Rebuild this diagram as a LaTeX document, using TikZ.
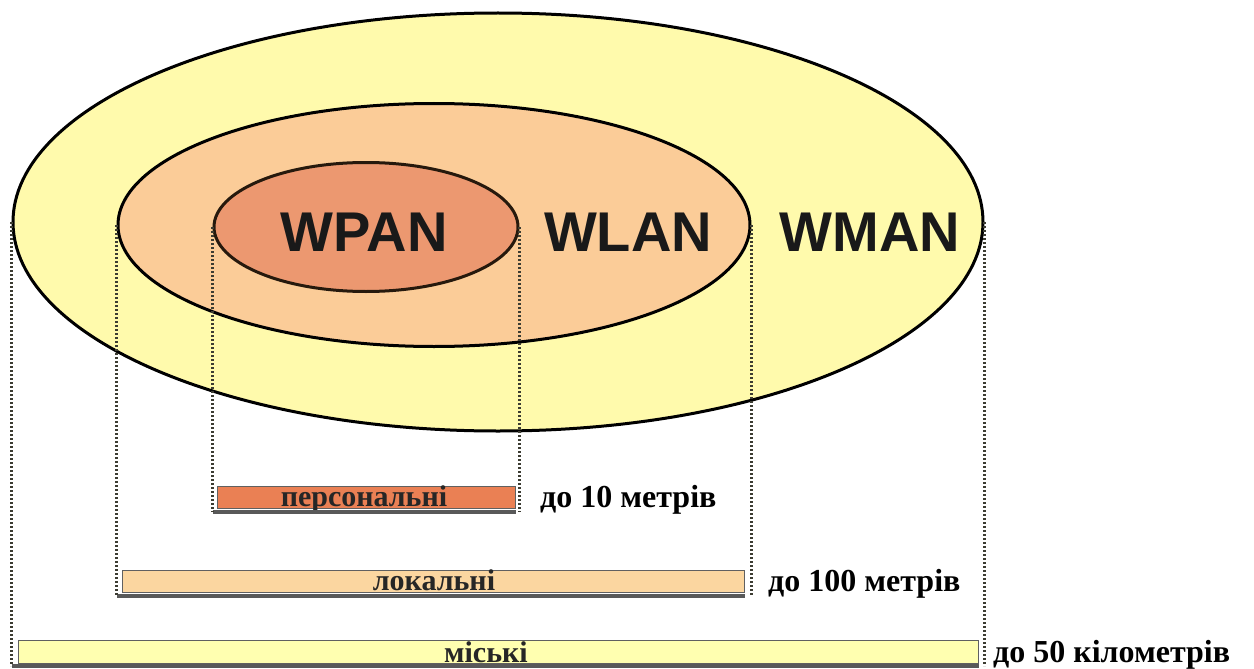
\documentclass[tikz,border=0pt]{standalone}
\usepackage{fontspec}
\setmainfont{Liberation Serif}
\newfontfamily\labfont{Liberation Sans}
\usetikzlibrary{shapes.geometric}
\definecolor{cOuter}{RGB}{255,250,172}
\definecolor{cMid}{RGB}{251,204,152}
\definecolor{cIn}{RGB}{236,152,112}
\definecolor{cBarP}{RGB}{234,128,84}
\definecolor{cBarL}{RGB}{251,214,160}
\definecolor{cBarM}{RGB}{255,255,176}
\definecolor{cDot}{RGB}{60,60,50}
\begin{document}
\begin{tikzpicture}[x=1pt,y=-1pt,
  ell/.style={ellipse, draw=black, line width=3pt, inner sep=0pt},
  netlabel/.style={font=\labfont\bfseries\fontsize{56}{56}\selectfont, text=black!90, inner sep=0pt},
  bar/.style={draw=gray!75!black, line width=1pt, inner sep=0pt},
  bartext/.style={anchor=base, inner sep=0pt, font=\bfseries\fontsize{30}{30}\selectfont, text=black!85},
  rangelabel/.style={anchor=base west, font=\bfseries\fontsize{32}{32}\selectfont, inner sep=0pt},
  dotline/.style={cDot, line width=3pt, dash pattern=on 2pt off 2pt},
  shadowline/.style={black!65, line width=4.5pt}]
\useasboundingbox (0,0) rectangle (1254,669);
\fill[white] (0,0) rectangle (1254,669);
% ellipses
\node[ell, fill=cOuter, minimum width=970, minimum height=418] (wman) at (498,222) {};
\node[ell, fill=cMid, minimum width=632, minimum height=243] (wlan) at (434,225) {};
\node[ell, fill=cIn, draw=black!80!brown, minimum width=304, minimum height=129] (wpan) at (366,227) {};
% labels
\node[netlabel] (tpan) at (364,232) {WPAN};
\node[netlabel] (tlan) at (628,232) {WLAN};
\node[netlabel] (tman) at (870,232) {WMAN};
% bars
\node[bar, fill=cBarP, minimum width=298, minimum height=22] (bP) at (366,497) {};
\node[bar, fill=cBarL, minimum width=622, minimum height=22] (bL) at (433,581) {};
\node[bar, fill=cBarM, minimum width=960, minimum height=23] (bM) at (498,652) {};
\node[bartext] (tP) at (364,506) {персональні};
\node[bartext] (tL) at (434,590) {локальні};
\node[bartext] (tM) at (486,662) {міські};
\coordinate (sP) at (wpan.west |- 0,512);
\coordinate (sL) at (wlan.west |- 0,596);
\coordinate (sM) at (wman.west |- 0,666);
\draw[shadowline] (sP) -- (bP.south east |- sP);
\draw[shadowline] (sL) -- (bL.south east |- sL);
\draw[shadowline] (sM) -- (bM.south east |- sM);
% range labels
\node[rangelabel] (rP) at (540,507) {до 10 метрів};
\node[rangelabel] (rL) at (768,591) {до 100 метрів};
\node[rangelabel] (rM) at (993,662) {до 50 кілометрів};
% dotted projection lines
\draw[dotline] (wpan.west) -- (sP);
\draw[dotline] (wpan.east) -- (wpan.east |- sP);
\draw[dotline] (wlan.west) -- (sL);
\draw[dotline] (wlan.east) -- (wlan.east |- sL);
\draw[dotline] (wman.west) -- (sM);
\draw[dotline] (wman.east) -- (wman.east |- sM);
\end{tikzpicture}
\end{document}
